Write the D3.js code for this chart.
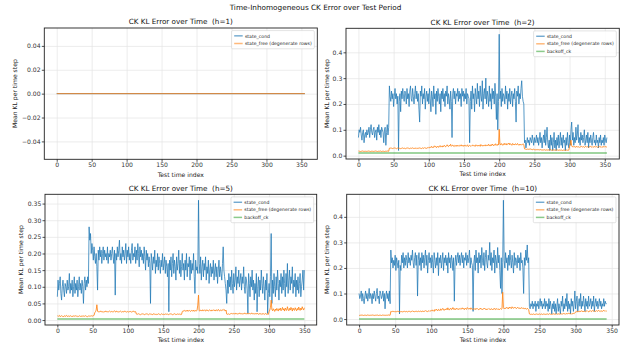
<!DOCTYPE html>
<html>
<head>
<meta charset="utf-8">
<script src="https://cdn.jsdelivr.net/npm/d3@7"></script>
<style>
    body { margin: 0; background: #fff; }
    svg { font-family: "DejaVu Sans", sans-serif; }
    text { white-space: pre; }
    .grid line { stroke: #e4e4e4; stroke-width: 0.7; }
    .grid path { display: none; }
    .axis path { display: none; }
    .axis line { stroke: #222; stroke-width: 0.8; }
    .axis text { fill: #333; }
</style>
</head>
<body>
<div id="chart"></div>
<script>
// ---- data ----

// h=1 : everything is zero over the test period
const h1Index = [0, 355];
const h1Cond  = [0, 0];
const h1Free  = [0, 0];

// h=2
const h2Cond = [
 .07,.10,.09,.11,.08,.06,.09,.10,.05,.08,.09,.07,.10,.08,.09,.11,.07,.10,.12,.09,
 .08,.10,.11,.07,.09,.10,.06,.11,.09,.12,.08,.10,.07,.11,.10,.09,.05,.10,.11,.04,
 .09,.12,.08,.11,.27,.23,.21,.25,.22,.24,.19,.23,.26,.22,.24,.20,.23,.02,.21,.24,
 .17,.25,.22,.26,.23,.21,.25,.24,.20,.26,.22,.24,.19,.25,.27,.22,.21,.26,.23,.20,
 .24,.27,.22,.25,.21,.24,.18,.13,.25,.23,.27,.20,.24,.22,.26,.18,.23,.25,.21,.24,
 .20,.26,.22,.17,.25,.23,.19,.27,.22,.24,.16,.25,.21,.26,.23,.20,.24,.17,.25,.22,
 .26,.21,.24,.19,.25,.23,.27,.20,.24,.22,.18,.25,.21,.07,.24,.26,.22,.25,.20,.24,
 .23,.26,.21,.25,.22,.24,.19,.26,.23,.25,.21,.24,.22,.26,.20,.24,.23,.22,.05,.21,
 .25,.18,.27,.22,.24,.17,.26,.23,.20,.28,.22,.25,.19,.27,.23,.21,.29,.18,.24,.26,
 .22,.30,.20,.25,.23,.19,.27,.21,.24,.18,.26,.22,.25,.20,.28,.23,.14,.24,.10,.21,
 .47,.22,.25,.19,.26,.21,.24,.23,.20,.27,.22,.25,.18,.24,.21,.26,.20,.23,.25,.19,
 .24,.22,.26,.21,.13,.25,.23,.27,.20,.24,.22,.26,.29,.23,.21,.20,.05,.06,.03,.05,
 .07,.05,.06,.04,.07,.06,.05,.08,.06,.04,.07,.05,.06,.08,.05,.07,.04,.06,.09,.05,
 .07,.03,.06,.08,.05,.10,.04,.07,.11,.05,.03,.06,.02,.08,.04,.07,.02,.05,.09,.03,
 .06,.02,.07,.04,.08,.03,.06,.09,.04,.07,.03,.08,.05,.06,.02,.07,.04,.09,.05,.03,
 .08,.04,.10,.13,.06,.09,.04,.07,.05,.11,.06,.08,.12,.05,.07,.04,.09,.06,.08,.05,
 .07,.10,.04,.06,.08,.05,.09,.03,.07,.05,.08,.06,.04,.07,.09,.05,.06,.04,.08,.05,
 .06,.03,.07,.05,.08,.04,.06,.05,.07,.04,.08,.06,.05,.07
];
const h2Free = [
 .018,.017,.017,.016,.017,.017,.018,.017,.016,.017,.017,.017,.016,.017,.018,.017,.017,.016,.017,.017,
 .017,.016,.017,.017,.018,.017,.017,.016,.017,.017,.017,.018,.017,.016,.017,.017,.017,.016,.017,.017,
 .017,.018,.017,.017,.029,.028,.030,.029,.028,.027,.029,.030,.028,.029,.027,.028,.030,.029,.028,.029,
 .027,.028,.029,.030,.028,.029,.028,.027,.029,.028,.030,.029,.028,.027,.029,.028,.029,.030,.028,.029,
 .028,.029,.027,.030,.028,.029,.028,.030,.029,.027,.028,.030,.029,.028,.031,.029,.030,.028,.031,.029,
 .032,.030,.034,.031,.036,.033,.030,.035,.038,.033,.036,.031,.034,.037,.032,.035,.039,.034,.036,.033,
 .038,.035,.040,.036,.034,.039,.042,.037,.035,.040,.038,.044,.036,.039,.041,.037,.035,.040,.038,.036,
 .041,.037,.039,.036,.040,.038,.042,.037,.039,.036,.041,.038,.040,.036,.039,.042,.035,.037,.040,.038,
 .036,.039,.041,.037,.040,.038,.036,.042,.039,.037,.041,.038,.040,.036,.043,.039,.037,.041,.038,.040,
 .037,.042,.039,.041,.038,.044,.040,.037,.042,.039,.045,.041,.038,.043,.040,.046,.042,.039,.044,.041,
 .102,.045,.041,.047,.043,.040,.046,.042,.048,.044,.041,.047,.043,.045,.049,.042,.046,.044,.040,.047,
 .043,.045,.041,.046,.044,.042,.047,.043,.040,.045,.042,.044,.041,.043,.046,.042,.026,.025,.026,.024,
 .025,.026,.024,.025,.026,.025,.024,.023,.024,.025,.023,.024,.022,.023,.024,.022,.023,.022,.024,.023,
 .022,.023,.021,.022,.023,.022,.021,.022,.023,.021,.022,.021,.022,.023,.021,.022,.021,.022,.021,.022,
 .021,.022,.021,.022,.021,.020,.022,.021,.022,.021,.020,.021,.022,.021,.020,.021,.022,.021,.020,.022,
 .036,.045,.060,.038,.034,.036,.033,.035,.034,.032,.036,.033,.035,.034,.032,.035,.033,.036,.034,.033,
 .035,.032,.034,.036,.033,.035,.034,.032,.035,.033,.036,.034,.032,.035,.033,.034,.036,.033,.035,.034,
 .032,.035,.033,.036,.034,.032,.035,.033,.034,.036,.033,.035,.034,.033
];
const h2BackoffIndex = [0, 353];
const h2Backoff = [0.010, 0.010];

// h=5
const h5Cond = [
 .07,.12,.09,.11,.13,.08,.06,.10,.12,.09,.07,.11,.10,.08,.12,.09,.10,.14,.08,.11,
 .09,.12,.07,.10,.13,.08,.11,.09,.12,.07,.10,.13,.09,.11,.08,.12,.10,.05,.11,.13,
 .09,.12,.10,.13,.11,.28,.24,.26,.20,.23,.21,.18,.22,.19,.17,.20,.16,.09,.21,.18,
 .22,.19,.21,.17,.20,.22,.18,.21,.19,.20,.18,.22,.17,.20,.19,.21,.18,.20,.22,.19,
 .17,.21,.075,.20,.18,.22,.19,.21,.24,.18,.20,.17,.22,.19,.21,.18,.20,.23,.17,.21,
 .19,.22,.18,.20,.17,.21,.23,.18,.20,.19,.22,.17,.21,.18,.23,.20,.16,.22,.19,.21,
 .18,.20,.17,.22,.19,.15,.21,.18,.20,.16,.19,.17,.05,.20,.18,.15,.19,.17,.21,.14,
 .18,.16,.20,.15,.19,.17,.14,.18,.16,.20,.15,.17,.19,.14,.18,.16,.13,.17,.025,.18,
 .15,.19,.13,.17,.20,.14,.18,.16,.12,.19,.15,.17,.21,.14,.18,.13,.16,.20,.15,.17,
 .12,.18,.15,.20,.13,.17,.16,.19,.12,.18,.14,.17,.15,.20,.13,.08,.18,.15,.16,.14,
 .36,.17,.14,.19,.12,.16,.18,.13,.17,.15,.19,.12,.16,.14,.18,.11,.15,.17,.13,.16,
 .14,.18,.12,.15,.17,.13,.16,.11,.15,.18,.13,.16,.14,.12,.17,.22,.15,.13,.11,.09,
 .05,.12,.08,.14,.10,.13,.09,.15,.11,.08,.14,.10,.12,.16,.09,.13,.11,.15,.10,.12,
 .14,.09,.13,.11,.16,.10,.08,.13,.12,.09,.02,.14,.11,.07,.13,.10,.15,.09,.12,.06,
 .11,.08,.14,.025,.10,.13,.07,.12,.09,.15,.11,.08,.13,.10,.06,.12,.09,.14,.02,.08,
 .11,.07,.13,.26,.05,.12,.08,.14,.10,.07,.13,.09,.15,.11,.06,.12,.10,.14,.08,.13,
 .09,.15,.11,.07,.14,.10,.17,.08,.12,.15,.09,.13,.11,.16,.08,.12,.10,.14,.07,.12,
 .09,.13,.08,.11,.14,.07,.10,.12,.15,.09,.15
];
const h5Free = [
 .013,.011,.012,.014,.010,.012,.013,.011,.012,.010,.013,.012,.011,.014,.012,.010,.013,.011,.012,.013,
 .011,.012,.010,.013,.012,.011,.013,.012,.010,.012,.011,.013,.012,.011,.012,.010,.013,.012,.011,.012,
 .013,.011,.012,.010,.012,.013,.011,.012,.013,.012,.012,.013,.014,.022,.025,.030,.046,.027,.024,.026,
 .025,.027,.024,.026,.025,.023,.026,.025,.027,.024,.026,.025,.024,.026,.027,.025,.024,.026,.025,.024,
 .026,.028,.025,.024,.027,.025,.026,.024,.025,.027,.026,.024,.025,.026,.024,.027,.025,.026,.024,.025,
 .026,.024,.025,.027,.025,.024,.026,.025,.027,.024,.026,.025,.018,.017,.018,.019,.017,.018,.016,.018,
 .017,.019,.018,.017,.016,.018,.019,.017,.018,.016,.017,.019,.018,.017,.018,.016,.019,.017,.018,.017,
 .018,.016,.017,.019,.018,.017,.016,.018,.019,.017,.018,.016,.017,.018,.019,.017,.018,.016,.017,.018,
 .019,.017,.018,.016,.018,.017,.019,.018,.016,.017,.018,.019,.017,.018,.016,.018,.017,.025,.028,.027,
 .029,.026,.028,.027,.030,.026,.028,.029,.027,.026,.029,.028,.027,.030,.026,.029,.028,.027,.030,.045,
 .075,.028,.027,.030,.029,.027,.031,.028,.030,.029,.027,.031,.028,.030,.027,.029,.031,.028,.030,.027,
 .029,.031,.028,.030,.027,.031,.029,.028,.032,.030,.027,.029,.031,.028,.030,.032,.029,.031,.027,.030,
 .018,.017,.019,.018,.017,.019,.018,.020,.019,.018,.020,.019,.018,.021,.019,.018,.020,.019,.021,.018,
 .020,.019,.018,.020,.019,.021,.018,.020,.019,.018,.021,.019,.020,.018,.019,.021,.018,.020,.019,.018,
 .020,.019,.018,.021,.019,.017,.020,.018,.019,.017,.020,.018,.019,.017,.018,.020,.017,.019,.018,.017,
 .025,.030,.038,.060,.032,.028,.034,.030,.026,.033,.029,.035,.031,.027,.034,.030,.036,.028,.032,.038,
 .030,.034,.027,.036,.031,.029,.040,.032,.028,.035,.030,.038,.033,.027,.036,.031,.029,.037,.032,.028,
 .035,.030,.039,.033,.029,.036,.031,.040,.034,.030,.037
];
const h5BackoffIndex = [0, 350];
const h5Backoff = [0.003, 0.003];

// h=10
const h10Cond = [
 .10,.08,.09,.11,.07,.10,.08,.06,.09,.11,.08,.10,.07,.09,.12,.08,.10,.09,.06,.10,
 .08,.11,.09,.07,.10,.12,.08,.09,.06,.11,.10,.08,.09,.11,.07,.10,.04,.09,.11,.08,
 .10,.07,.11,.06,.27,.22,.24,.20,.23,.21,.25,.19,.24,.22,.20,.23,.02,.21,.19,.25,
 .22,.26,.20,.24,.21,.25,.23,.20,.26,.22,.24,.21,.25,.23,.27,.22,.20,.24,.26,.21,
 .25,.09,.23,.26,.21,.24,.19,.26,.22,.25,.20,.24,.27,.21,.25,.18,.23,.26,.22,.24,
 .20,.25,.22,.18,.26,.23,.20,.24,.21,.26,.17,.24,.22,.25,.20,.23,.26,.19,.24,.22,
 .25,.21,.24,.18,.26,.22,.24,.20,.25,.23,.19,.24,.07,.22,.25,.21,.24,.26,.22,.25,
 .21,.24,.26,.22,.25,.20,.24,.23,.26,.21,.25,.22,.24,.27,.20,.24,.22,.21,.03,.22,
 .25,.19,.27,.22,.24,.18,.26,.22,.25,.20,.28,.23,.21,.26,.19,.24,.27,.22,.20,.25,
 .23,.30,.21,.26,.19,.24,.22,.27,.18,.25,.23,.20,.28,.22,.25,.19,.12,.24,.10,.22,
 .465,.23,.20,.26,.22,.24,.19,.25,.21,.27,.23,.20,.25,.22,.18,.26,.21,.24,.23,.20,
 .25,.22,.24,.19,.26,.22,.23,.20,.10,.24,.21,.27,.23,.29,.22,.24,.05,.04,.06,.05,
 .07,.04,.06,.05,.07,.03,.06,.05,.07,.04,.06,.08,.05,.07,.04,.06,.05,.08,.04,.07,
 .05,.06,.03,.08,.04,.07,.05,.02,.06,.04,.07,.03,.06,.02,.05,.08,.03,.06,.04,.02,
 .07,.05,.09,.03,.06,.04,.08,.05,.10,.03,.07,.04,.06,.02,.08,.05,.07,.03,.06,.11,
 .04,.07,.09,.03,.06,.08,.05,.10,.04,.07,.05,.09,.06,.03,.08,.05,.07,.04,.09,.05,
 .06,.08,.04,.07,.05,.09,.03,.06,.08,.05,.07,.04,.06,.08,.05,.07,.04,.06,.05,.08,
 .05,.07,.06,.06
];
const h10Free = [
 .015,.014,.015,.015,.016,.015,.014,.015,.015,.015,.014,.015,.016,.015,.015,.014,.015,.015,.015,.016,
 .015,.014,.015,.015,.015,.016,.015,.014,.015,.015,.015,.014,.015,.016,.015,.015,.014,.015,.015,.015,
 .015,.016,.015,.015,.030,.029,.031,.028,.030,.029,.028,.030,.029,.031,.028,.030,.029,.028,.030,.029,
 .028,.030,.029,.031,.028,.029,.030,.028,.029,.031,.030,.028,.029,.030,.032,.029,.031,.028,.030,.029,
 .031,.029,.030,.032,.029,.031,.030,.028,.032,.030,.029,.031,.033,.030,.032,.029,.031,.033,.030,.032,
 .034,.031,.036,.033,.030,.037,.034,.039,.035,.032,.038,.036,.033,.040,.035,.037,.042,.036,.034,.039,
 .037,.041,.036,.044,.038,.035,.040,.043,.037,.039,.045,.038,.041,.036,.040,.043,.038,.041,.037,.040,
 .042,.038,.040,.044,.039,.041,.037,.043,.040,.038,.045,.041,.039,.042,.038,.044,.040,.037,.041,.039,
 .040,.037,.042,.039,.041,.038,.036,.040,.043,.038,.040,.037,.041,.039,.042,.038,.040,.036,.039,.041,
 .038,.040,.037,.041,.039,.036,.040,.038,.042,.037,.039,.041,.038,.040,.036,.039,.041,.038,.040,.105,
 .045,.040,.043,.041,.046,.042,.044,.040,.047,.043,.045,.041,.048,.044,.042,.046,.043,.045,.041,.044,
 .046,.042,.044,.040,.043,.045,.041,.044,.042,.039,.043,.041,.038,.042,.040,.037,.020,.019,.018,.019,
 .018,.019,.020,.018,.019,.018,.020,.019,.018,.019,.020,.018,.019,.020,.018,.019,.020,.019,.018,.020,
 .019,.020,.018,.019,.021,.019,.020,.018,.019,.020,.021,.019,.020,.018,.021,.019,.020,.021,.019,.020,
 .021,.019,.020,.022,.020,.021,.019,.022,.020,.021,.023,.020,.022,.021,.019,.022,.020,.023,.021,.024,
 .028,.030,.027,.031,.029,.032,.028,.030,.033,.029,.031,.028,.032,.030,.029,.031,.033,.030,.028,.032,
 .030,.033,.029,.031,.034,.030,.032,.029,.031,.033,.030,.032,.034,.031,.029,.033,.031,.030,.032,.034,
 .031,.033,.030,.032
];
const h10BackoffIndex = [0, 343];
const h10Backoff = [0, 0];

const xTicks = [0, 50, 100, 150, 200, 250, 300, 350];

// ---- styling ----
const COLORS = { cond: "#1f77b4", free: "#ff7f0e", backoff: "#2ca02c" };
const LABELS = { cond: "state_cond", free: "state_free (degenerate rows)", backoff: "backoff_ck" };
const W = 631, H = 347;

function byIndex(values) {
    return values.map((v, i) => [i, v]);
}
function paired(xs, ys) {
    return xs.map((x, i) => [x, ys[i]]);
}

const panels = [
    {
        title: "CK KL Error over Time  (h=1)",
        box: { left: 44.3, right: 317.3, top: 28, bottom: 159.3 },
        xDomain: [-17.75, 372.75], yDomain: [-0.055, 0.055],
        yTicks: [-0.04, -0.02, 0, 0.02, 0.04], yFormat: ".2f", yLabelX: 15,
        series: [
            { key: "cond", pts: paired(h1Index, h1Cond) },
            { key: "free", pts: paired(h1Index, h1Free) }
        ]
    },
    {
        title: "CK KL Error over Time  (h=2)",
        box: { left: 346, right: 619.3, top: 28.3, bottom: 159 },
        xDomain: [-17.65, 370.65], yDomain: [-0.013, 0.493],
        yTicks: [0, 0.1, 0.2, 0.3, 0.4], yFormat: ".1f", yLabelX: 326.7,
        series: [
            { key: "cond", pts: byIndex(h2Cond) },
            { key: "free", pts: byIndex(h2Free) },
            { key: "backoff", pts: paired(h2BackoffIndex, h2Backoff) }
        ]
    },
    {
        title: "CK KL Error over Time  (h=5)",
        box: { left: 45, right: 316.7, top: 194.3, bottom: 325 },
        xDomain: [-17.5, 367.5], yDomain: [-0.01485, 0.37785],
        yTicks: [0, 0.05, 0.1, 0.15, 0.2, 0.25, 0.3, 0.35], yFormat: ".2f", yLabelX: 20.7,
        series: [
            { key: "cond", pts: byIndex(h5Cond) },
            { key: "free", pts: byIndex(h5Free) },
            { key: "backoff", pts: paired(h5BackoffIndex, h5Backoff) }
        ]
    },
    {
        title: "CK KL Error over Time  (h=10)",
        box: { left: 346.7, right: 619, top: 194.3, bottom: 325 },
        xDomain: [-17.15, 360.15], yDomain: [-0.02325, 0.48825],
        yTicks: [0, 0.1, 0.2, 0.3, 0.4], yFormat: ".1f", yLabelX: 326.7,
        series: [
            { key: "cond", pts: byIndex(h10Cond) },
            { key: "free", pts: byIndex(h10Free) },
            { key: "backoff", pts: paired(h10BackoffIndex, h10Backoff) }
        ]
    }
];

const svg = d3.select("#chart").append("svg")
    .attr("width", W)
    .attr("height", H)
    .style("display", "block");

svg.append("rect").attr("width", W).attr("height", H).attr("fill", "#fff");

// figure title
svg.append("text")
    .attr("x", 315.5)
    .attr("y", 9.6)
    .attr("text-anchor", "middle")
    .style("font-size", "7.3px")
    .style("fill", "#111")
    .text("Time-Inhomogeneous CK Error over Test Period");

panels.forEach(renderPanel);

function lineStyle(key) {
    if (key === "cond") return { w: 0.8, op: 0.95 };
    if (key === "free") return { w: 0.9, op: 0.9 };
    return { w: 1.4, op: 0.6 };
}

function renderPanel(p) {
    const b = p.box;
    const x = d3.scaleLinear().domain(p.xDomain).range([b.left, b.right]);
    const y = d3.scaleLinear().domain(p.yDomain).range([b.bottom, b.top]);
    const g = svg.append("g");

    // gridlines
    g.append("g")
        .attr("class", "grid")
        .attr("transform", "translate(0," + b.bottom + ")")
        .call(d3.axisBottom(x).tickValues(xTicks).tickSize(-(b.bottom - b.top)).tickFormat(""));
    g.append("g")
        .attr("class", "grid")
        .attr("transform", "translate(" + b.left + ",0)")
        .call(d3.axisLeft(y).tickValues(p.yTicks).tickSize(-(b.right - b.left)).tickFormat(""));

    // clip the data to the axes box
    const clipId = "clip" + Math.round(b.left) + "_" + Math.round(b.top);
    g.append("clipPath").attr("id", clipId)
        .append("rect")
        .attr("x", b.left).attr("y", b.top)
        .attr("width", b.right - b.left).attr("height", b.bottom - b.top);

    const line = d3.line()
        .x(d => x(d[0]))
        .y(d => y(d[1]));

    const plot = g.append("g").attr("clip-path", "url(#" + clipId + ")");
    p.series.forEach(s => {
        const st = lineStyle(s.key);
        plot.append("path")
            .datum(s.pts)
            .attr("fill", "none")
            .attr("stroke", COLORS[s.key])
            .attr("stroke-width", st.w)
            .attr("stroke-opacity", st.op)
            .attr("stroke-linejoin", "round")
            .attr("d", line);
    });

    // axes
    const xAxis = g.append("g")
        .attr("class", "axis")
        .attr("transform", "translate(0," + b.bottom + ")")
        .call(d3.axisBottom(x).tickValues(xTicks).tickSize(2.5).tickPadding(1.2));
    xAxis.selectAll("text").style("font-size", "6.1px");

    const yAxis = g.append("g")
        .attr("class", "axis")
        .attr("transform", "translate(" + b.left + ",0)")
        .call(d3.axisLeft(y).tickValues(p.yTicks).tickFormat(d3.format(p.yFormat)).tickSize(2.5).tickPadding(1.2));
    yAxis.selectAll("text").style("font-size", "6.1px");
    xAxis.attr("font-family", null);
    yAxis.attr("font-family", null);

    // frame
    g.append("rect")
        .attr("x", b.left).attr("y", b.top)
        .attr("width", b.right - b.left).attr("height", b.bottom - b.top)
        .attr("fill", "none")
        .attr("stroke", "#222")
        .attr("stroke-width", 0.9);

    // titles
    const cx = (b.left + b.right) / 2;
    g.append("text")
        .attr("x", cx).attr("y", b.top - 3.6)
        .attr("text-anchor", "middle")
        .style("font-size", "7.2px")
        .style("fill", "#111")
        .text(p.title);

    g.append("text")
        .attr("x", cx).attr("y", b.bottom + 17.2)
        .attr("text-anchor", "middle")
        .style("font-size", "6.1px")
        .style("fill", "#222")
        .text("Test time index");

    g.append("text")
        .attr("transform", "translate(" + p.yLabelX + "," + ((b.top + b.bottom) / 2) + ") rotate(-90)")
        .attr("dy", "0.35em")
        .attr("text-anchor", "middle")
        .style("font-size", "6.1px")
        .style("fill", "#222")
        .text("Mean KL per time step");

    // legend (upper right)
    const rows = p.series.map(s => s.key);
    const rowH = 7.6;
    const fs = 4.6;
    const leg = g.append("g");
    const bg = leg.append("rect");
    const texts = [];
    rows.forEach((k, i) => {
        const t = leg.append("text")
            .attr("y", i * rowH)
            .attr("dy", "0.35em")
            .style("font-size", fs + "px")
            .style("fill", "#222")
            .text(LABELS[k]);
        texts.push(t);
    });
    const maxW = d3.max(texts, t => t.node().getComputedTextLength());
    const sample = 8.5, gap = 2.2, pad = 2.6;
    const boxW = pad + sample + gap + maxW + pad;
    const boxH = rows.length * rowH + 3;
    const lx = b.right - 3 - boxW;
    const ly = b.top + 2.6;
    leg.attr("transform", "translate(" + lx + "," + ly + ")");
    bg.attr("x", 0).attr("y", 0)
        .attr("width", boxW).attr("height", boxH)
        .attr("rx", 1.2)
        .attr("fill", "#fff").attr("fill-opacity", 0.85)
        .attr("stroke", "#d0d0d0").attr("stroke-width", 0.6);
    rows.forEach((k, i) => {
        const yy = 1.5 + rowH / 2 + i * rowH;
        leg.append("line")
            .attr("x1", pad).attr("x2", pad + sample)
            .attr("y1", yy).attr("y2", yy)
            .attr("stroke", COLORS[k])
            .attr("stroke-width", k === "cond" ? 0.9 : 1.5)
            .attr("stroke-opacity", k === "cond" ? 1 : 0.55);
        texts[i].attr("x", pad + sample + gap).attr("y", yy);
    });
}
</script>
</body>
</html>
